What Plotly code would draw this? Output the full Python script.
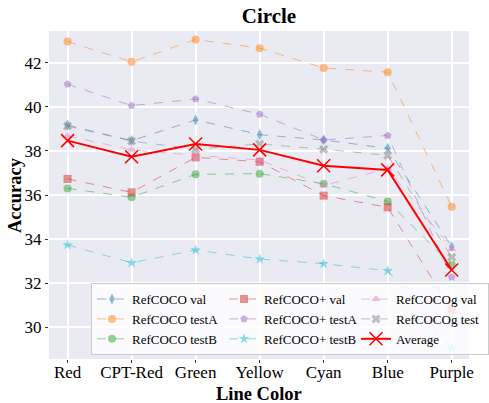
import plotly.graph_objects as go

categories = ["Red", "CPT-Red", "Green", "Yellow", "Cyan", "Blue", "Purple"]

refcoco_val = [39.17, 38.47, 39.41, 38.74, 38.50, 38.12, 33.65]
refcoco_testA = [42.97, 42.05, 43.06, 42.67, 41.77, 41.58, 35.47]
refcoco_testB = [36.30, 35.90, 36.94, 36.97, 36.51, 35.71, 32.82]
refcocop_val = [36.73, 36.12, 37.71, 37.51, 35.97, 35.44, 30.77]
refcocop_testA = [41.03, 40.06, 40.36, 39.67, 38.50, 38.70, 32.26]
refcocop_testB = [33.73, 32.92, 33.50, 33.09, 32.88, 32.56, 29.03]
refcocog_val = [38.68, 38.05, 37.80, 37.59, 36.43, 37.21, 33.55]
refcocog_test = [39.13, 38.45, 38.08, 38.32, 38.08, 37.80, 33.17]
average = [38.47, 37.74, 38.32, 38.05, 37.33, 37.14, 32.59]

series = [
    ("RefCOCO val", refcoco_val, "rgba(31,119,180,0.5)", "diamond-tall", 1),
    ("RefCOCO testA", refcoco_testA, "rgba(255,127,14,0.5)", "circle", 4),
    ("RefCOCO testB", refcoco_testB, "rgba(44,160,44,0.5)", "circle", 7),
    ("RefCOCO+ val", refcocop_val, "rgba(214,39,40,0.5)", "square", 2),
    ("RefCOCO+ testA", refcocop_testA, "rgba(148,103,189,0.5)", "pentagon", 5),
    ("RefCOCO+ testB", refcocop_testB, "rgba(23,190,207,0.5)", "star", 8),
    ("RefCOCOg val", refcocog_val, "rgba(227,119,194,0.5)", "triangle-up", 3),
    ("RefCOCOg test", refcocog_test, "rgba(127,127,127,0.5)", "x", 6),
]

FONT = "Liberation Serif, Times New Roman, serif"

fig = go.Figure()
xs = list(range(len(categories)))
for name, vals, color, sym, rank in series:
    fig.add_trace(go.Scatter(
        x=xs, y=vals, name=name, mode="lines+markers",
        line=dict(color=color, width=1, dash="dash"),
        marker=dict(symbol=sym, size=8, color=color, line=dict(width=0)),
        legendrank=rank,
    ))
fig.add_trace(go.Scatter(
    x=xs, y=average, name="Average", mode="lines+markers",
    line=dict(color="red", width=2),
    marker=dict(symbol="x-thin", size=13, line=dict(color="red", width=1.5)),
    legendrank=9,
))

fig.update_layout(
    width=489, height=403,
    margin=dict(l=49, r=0, t=31, b=44),
    plot_bgcolor="#EAEAF2", paper_bgcolor="white",
    font=dict(family=FONT, color="black"),
    title=dict(text="<b>Circle</b>", x=0.55, xanchor="center", y=0.96, yanchor="middle",
               font=dict(size=21, family=FONT)),
    xaxis=dict(
        range=[-0.29, 6.27], tickmode="array", tickvals=xs, ticktext=categories,
        showgrid=True, gridcolor="white", gridwidth=1.5, zeroline=False,
        ticks="outside", ticklen=3, tickcolor="#333",
        tickfont=dict(size=17, family=FONT), ticklabeloverflow="allow",
        ticklabelstandoff=-5,
    ),
    yaxis=dict(
        range=[28.55, 43.45], tickvals=[30, 32, 34, 36, 38, 40, 42],
        showgrid=True, gridcolor="white", gridwidth=1.5, zeroline=False,
        ticks="outside", ticklen=3, tickcolor="#333",
        tickfont=dict(size=17, family=FONT),
    ),
    legend=dict(
        orientation="h", x=0.1, xanchor="left", y=0.012, yanchor="bottom",
        bgcolor="rgba(255,255,255,0.8)", bordercolor="#cccccc", borderwidth=1,
        font=dict(size=13, family=FONT), entrywidth=87,
        traceorder="normal", tracegroupgap=0,
    ),
    annotations=[
        dict(text="<b>Line Color</b>", xref="paper", yref="paper", x=0.5, y=0,
             xanchor="center", yanchor="middle", yshift=-35, showarrow=False,
             font=dict(size=18.5, family=FONT)),
        dict(text="<b>Accuracy</b>", xref="paper", yref="paper", x=0, y=0.5,
             xanchor="center", yanchor="middle", xshift=-34, textangle=-90, showarrow=False,
             font=dict(size=18.5, family=FONT)),
    ],
)

fig.write_html("out.html")
